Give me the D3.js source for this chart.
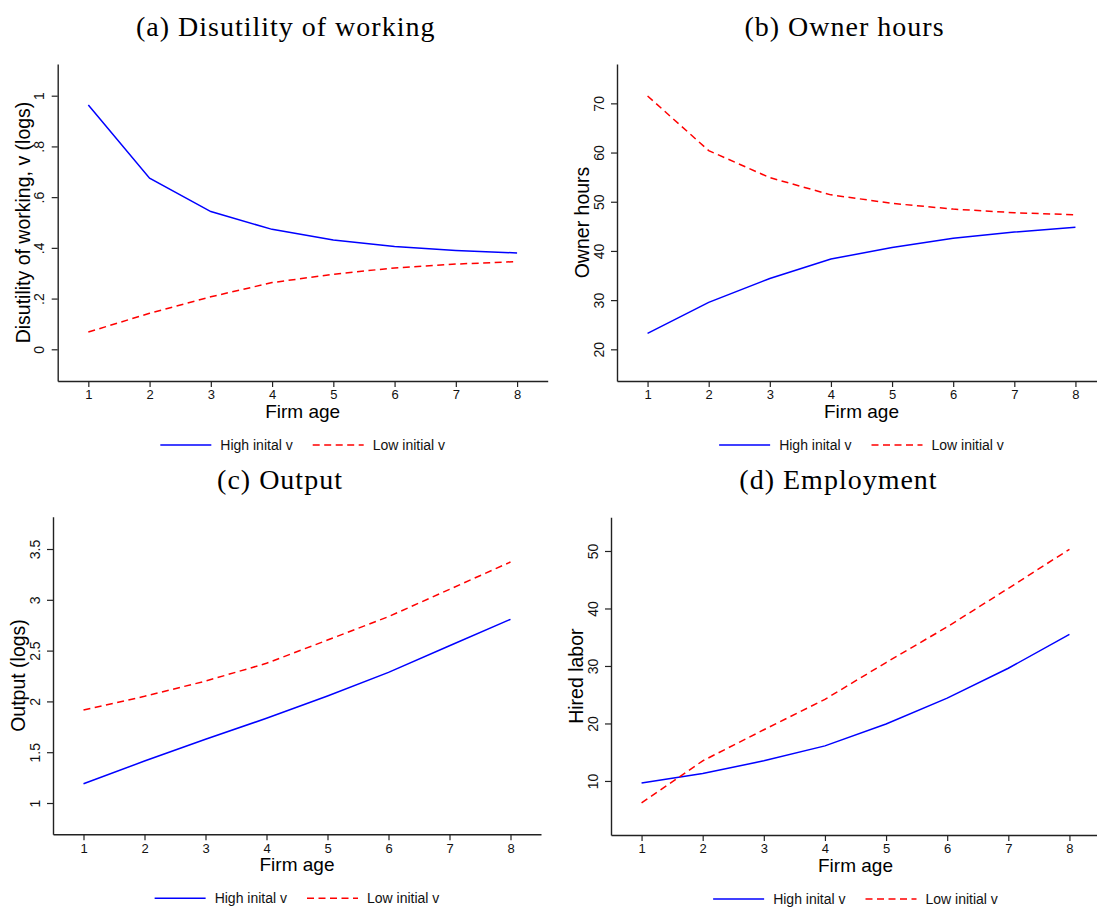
<!DOCTYPE html>
<html>
<head>
<meta charset="utf-8">
<script src="https://cdn.jsdelivr.net/npm/d3@7"></script>
<style>
  body { margin: 0; background: #fff; }
  svg { display: block; }
</style>
</head>
<body>
<div id="chart"></div>
<script>
// ---- Data ----
const firmAge = [1, 2, 3, 4, 5, 6, 7, 8];

const disutilHigh = [0.963, 0.675, 0.543, 0.473, 0.431, 0.405, 0.390, 0.380];
const disutilLow  = [0.068, 0.142, 0.207, 0.263, 0.296, 0.321, 0.336, 0.346];

const hoursHigh = [23.25, 29.55, 34.4, 38.35, 40.7, 42.56, 43.84, 44.8];
const hoursLow  = [71.5, 60.4, 54.9, 51.4, 49.67, 48.5, 47.77, 47.36];

const outputHigh = [1.19, 1.413, 1.627, 1.834, 2.053, 2.286, 2.548, 2.808];
const outputLow  = [1.915, 2.05, 2.20, 2.375, 2.604, 2.834, 3.103, 3.372];

const laborHigh = [9.65, 11.3, 13.5, 16.1, 19.9, 24.4, 29.6, 35.5];
const laborLow  = [6.2, 13.5, 18.9, 24.2, 30.6, 36.8, 43.5, 50.3];

const disutilTicks = [0, 0.2, 0.4, 0.6, 0.8, 1];
const hoursTicks = [20, 30, 40, 50, 60, 70];
const outputTicks = [1, 1.5, 2, 2.5, 3, 3.5];
const laborTicks = [10, 20, 30, 40, 50];

const seriesNames = ["High inital v", "Low initial v"];
const xLabel = "Firm age";

// ---- Panels ----
const panels = [
  { title: "(a) Disutility of working", ylabel: "Disutility of working, v (logs)",
    high: disutilHigh, low: disutilLow, ticks: disutilTicks, ydomain: [-0.125, 1.125],
    fmt: d => d3.format("~g")(d).replace(/^0\./, "."),
    frame: { left: 57.7, right: 547.7, top: 64, bottom: 381 } },
  { title: "(b) Owner hours", ylabel: "Owner hours",
    high: hoursHigh, low: hoursLow, ticks: hoursTicks, ydomain: [13.56, 78],
    fmt: d3.format("d"),
    frame: { left: 617, right: 1106, top: 64, bottom: 381 } },
  { title: "(c) Output", ylabel: "Output (logs)",
    high: outputHigh, low: outputLow, ticks: outputTicks, ydomain: [0.692, 3.818],
    fmt: d3.format("~g"),
    frame: { left: 53, right: 541, top: 516.7, bottom: 834.3 } },
  { title: "(d) Employment", ylabel: "Hired labor",
    high: laborHigh, low: laborLow, ticks: laborTicks, ydomain: [0.6, 55.86],
    fmt: d3.format("d"),
    frame: { left: 611, right: 1100, top: 517.3, bottom: 835 } }
];

const blue = "#0000ff";
const red = "#ff0000";
const dash = "7,4.5";
const axisColor = "#222";
const sans = "'Liberation Sans', Arial, sans-serif";
const serif = "'Liberation Serif', 'Times New Roman', serif";

const svg = d3.select("#chart").append("svg")
  .attr("width", 1097)
  .attr("height", 907);

svg.append("rect").attr("width", 1097).attr("height", 907).attr("fill", "#fff");

for (const p of panels) {
  const f = p.frame;
  const x = d3.scaleLinear([0.5, 8.5], [f.left, f.right]);
  const y = d3.scaleLinear(p.ydomain, [f.bottom, f.top]);
  const cx = (f.left + f.right) / 2;
  const g = svg.append("g");

  // title
  g.append("text")
    .attr("x", cx - 17)
    .attr("y", f.top - 28)
    .attr("text-anchor", "middle")
    .attr("font-family", serif)
    .attr("font-size", 28)
    .attr("letter-spacing", 1)
    .attr("fill", "#000")
    .text(p.title);

  // x axis
  const xAxis = g.append("g")
    .attr("transform", `translate(0,${f.bottom})`)
    .call(d3.axisBottom(x).tickValues(firmAge).tickSize(6).tickSizeOuter(0).tickPadding(3));
  xAxis.select(".domain").attr("stroke", axisColor).attr("stroke-width", 1.4);
  xAxis.selectAll(".tick line").attr("stroke", axisColor).attr("stroke-width", 1.2);
  xAxis.selectAll(".tick text")
    .attr("font-family", sans).attr("font-size", 13).attr("fill", "#111");

  // y axis, with vertical tick labels
  const yAxis = g.append("g")
    .attr("transform", `translate(${f.left},0)`)
    .call(d3.axisLeft(y).tickValues(p.ticks).tickFormat(p.fmt).tickSize(6).tickSizeOuter(0));
  yAxis.select(".domain").attr("stroke", axisColor).attr("stroke-width", 1.4);
  yAxis.selectAll(".tick line").attr("stroke", axisColor).attr("stroke-width", 1.2);
  yAxis.selectAll(".tick text")
    .attr("font-family", sans).attr("font-size", 14).attr("fill", "#111")
    .attr("text-anchor", "middle")
    .attr("transform", "rotate(-90)")
    .attr("x", 0)
    .attr("y", -13.3)
    .attr("dy", null);

  // axis titles
  g.append("text")
    .attr("x", cx)
    .attr("y", f.bottom + 37)
    .attr("text-anchor", "middle")
    .attr("font-family", sans)
    .attr("font-size", 19)
    .attr("fill", "#000")
    .text(xLabel);

  g.append("text")
    .attr("transform", `translate(${f.left - 28},${(f.top + f.bottom) / 2}) rotate(-90)`)
    .attr("text-anchor", "middle")
    .attr("font-family", sans)
    .attr("font-size", 19.5)
    .attr("fill", "#000")
    .text(p.ylabel);

  // lines
  const line = d3.line().x((d, i) => x(firmAge[i])).y(d => y(d));
  g.append("path")
    .attr("d", line(p.high))
    .attr("fill", "none")
    .attr("stroke", blue)
    .attr("stroke-width", 1.5);
  g.append("path")
    .attr("d", line(p.low))
    .attr("fill", "none")
    .attr("stroke", red)
    .attr("stroke-width", 1.5)
    .attr("stroke-dasharray", dash);

  // legend
  const leg = g.append("g");
  const ly = f.bottom + 64;
  const keyW = 51, keyGap = 9, itemGap = 20;
  let lx = 0;
  [blue, red].forEach((c, i) => {
    leg.append("line")
      .attr("x1", lx).attr("x2", lx + keyW)
      .attr("y1", 0).attr("y2", 0)
      .attr("stroke", c).attr("stroke-width", 1.5)
      .attr("stroke-dasharray", i === 1 ? dash : null);
    const t = leg.append("text")
      .attr("x", lx + keyW + keyGap)
      .attr("y", 5)
      .attr("font-family", sans)
      .attr("font-size", 14)
      .attr("fill", "#111")
      .text(seriesNames[i]);
    lx += keyW + keyGap + t.node().getComputedTextLength() + itemGap;
  });
  const legW = lx - itemGap;
  leg.attr("transform", `translate(${cx - legW / 2},${ly})`);
}
</script>
</body>
</html>
